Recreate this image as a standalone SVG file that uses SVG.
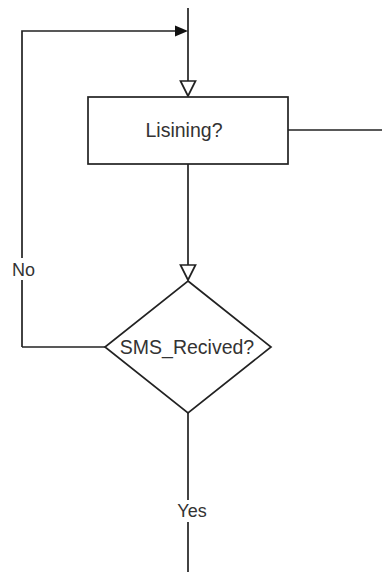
<svg xmlns="http://www.w3.org/2000/svg" width="382" height="572" viewBox="0 0 382 572">
<style>
.ln{fill:none;stroke:#222;stroke-width:1.7}
.shape{fill:#fff;stroke:#222;stroke-width:1.7}
.open{fill:#fff;stroke:#222;stroke-width:1.7;stroke-linejoin:miter}
.txt{font-family:"Liberation Sans",Arial,sans-serif;font-size:19.5px;fill:#333;text-anchor:middle}
.lbl{font-family:"Liberation Sans",Arial,sans-serif;font-size:18px;fill:#333;text-anchor:middle}
</style>
<rect width="382" height="572" fill="#fff"/>
<g id="connectors">
  <path class="ln" d="M188 8 V81"/>
  <polygon class="open" points="180.5,81 195.5,81 188,96"/>
  <path class="ln" d="M22 347 V31 H176"/>
  <polygon points="175,25.5 188,31 175,36.5" fill="#111"/>
  <path class="ln" d="M288 130 H382"/>
  <path class="ln" d="M188 164 V265"/>
  <polygon class="open" points="180.5,265 195.5,265 188,280"/>
  <path class="ln" d="M105 347 H22"/>
  <path class="ln" d="M188 413 V572"/>
  <rect x="10" y="258" width="26" height="22" fill="#fff"/>
  <text class="lbl" x="23.5" y="275.5">No</text>
  <rect x="174" y="500" width="36" height="22" fill="#fff"/>
  <text class="lbl" x="192" y="517">Yes</text>
</g>
<g id="node-listening">
  <rect class="shape" x="88" y="97" width="200" height="67"/>
  <text class="txt" x="184" y="137">Lisining?</text>
</g>
<g id="node-sms">
  <polygon class="shape" points="188,281 271,347 188,413 105,347"/>
  <text class="txt" x="187" y="354">SMS_Recived?</text>
</g>
</svg>
